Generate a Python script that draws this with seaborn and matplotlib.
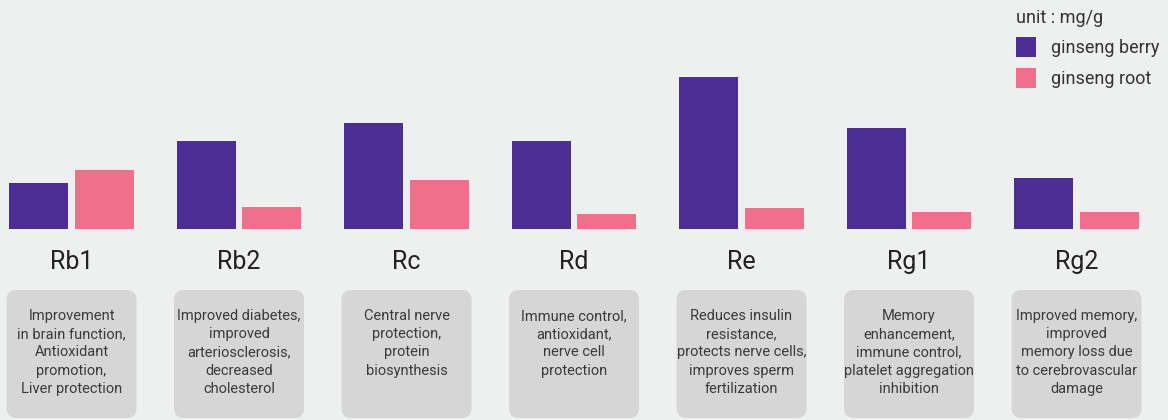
import numpy as np
import pandas as pd
import matplotlib.pyplot as plt
import seaborn as sns
from matplotlib.patches import FancyBboxPatch

sns.set_theme(style="white")
plt.rcParams['font.family'] = ['Roboto', 'DejaVu Sans']

# Data (unit: mg/g)
compounds = ['Rb1', 'Rb2', 'Rc', 'Rd', 'Re', 'Rg1', 'Rg2']
berry = [4.65, 8.85, 10.65, 8.85, 15.25, 10.15, 5.15]
root = [5.95, 2.2, 4.95, 1.55, 2.15, 1.75, 1.75]
effects = [
    'Improvement\nin brain function,\nAntioxidant\npromotion,\nLiver protection',
    'Improved diabetes,\nimproved\narteriosclerosis,\ndecreased\ncholesterol',
    'Central nerve\nprotection,\nprotein\nbiosynthesis',
    'Immune control,\nantioxidant,\nnerve cell\nprotection',
    'Reduces insulin\nresistance,\nprotects nerve cells,\nimproves sperm\nfertilization',
    'Memory\nenhancement,\nimmune control,\nplatelet aggregation\ninhibition',
    'Improved memory,\nimproved\nmemory loss due\nto cerebrovascular\ndamage',
]

df = pd.DataFrame({
    'compound': compounds * 2,
    'value': berry + root,
    'source': ['ginseng berry'] * len(compounds) + ['ginseng root'] * len(compounds),
})
palette = {'ginseng berry': '#4a2e91', 'ginseng root': '#f06f8a'}

bg = '#eeefef'
fig = plt.figure(figsize=(11.68, 4.2), dpi=100, facecolor=bg)
ax = fig.add_axes([0, 1 - 229.5 / 420, 1, 229.5 / 420])
ax.set_facecolor('none')

sns.barplot(data=df, x='compound', y='value', hue='source', palette=palette,
            width=0.78, gap=0.1, saturation=1, linewidth=0, ax=ax)

ax.set_xlim(-0.427, 6.546)
ax.set_ylim(0, 22.95)
ax.set_xticks([])
ax.set_yticks([])
ax.set_xlabel('')
ax.set_ylabel('')
for s in ax.spines.values():
    s.set_visible(False)

# legend
old = ax.get_legend()
handles = old.legend_handles
labels = [t.get_text() for t in old.get_texts()]
old.remove()
leg = fig.legend(handles, labels, title='unit : mg/g', loc='upper left',
                 bbox_to_anchor=(1003 / 1168, 1 + 4 / 420), frameon=False,
                 fontsize=13, title_fontsize=13, alignment='left',
                 handlelength=1.15, handleheight=1.3, handletextpad=0.8,
                 labelspacing=0.6, borderpad=0.2)
for t in leg.get_texts():
    t.set_color('#333333')
leg.get_title().set_color('#333333')

# overlay in pixel coordinates for labels and description boxes
ov = fig.add_axes([0, 0, 1, 1])
ov.set_xlim(0, 1168)
ov.set_ylim(420, 0)
ov.axis('off')
fig.canvas.draw()
for i, (name, txt) in enumerate(zip(compounds, effects)):
    cx = ax.transData.transform((i, 0))[0]
    ov.text(cx, 262, name, ha='center', va='center', fontsize=18, color='#222222')
    box = FancyBboxPatch((cx - 65 + 10, 290 + 10), 130 - 20, 128 - 20,
                         boxstyle='round,pad=10', facecolor='#d6d6d6',
                         edgecolor='none')
    ov.add_patch(box)
    ov.text(cx, 309, txt, ha='center', va='top', fontsize=10.5,
            color='#3a3a3a', linespacing=1.38)

fig.savefig('out.png', dpi=100, facecolor=bg)
